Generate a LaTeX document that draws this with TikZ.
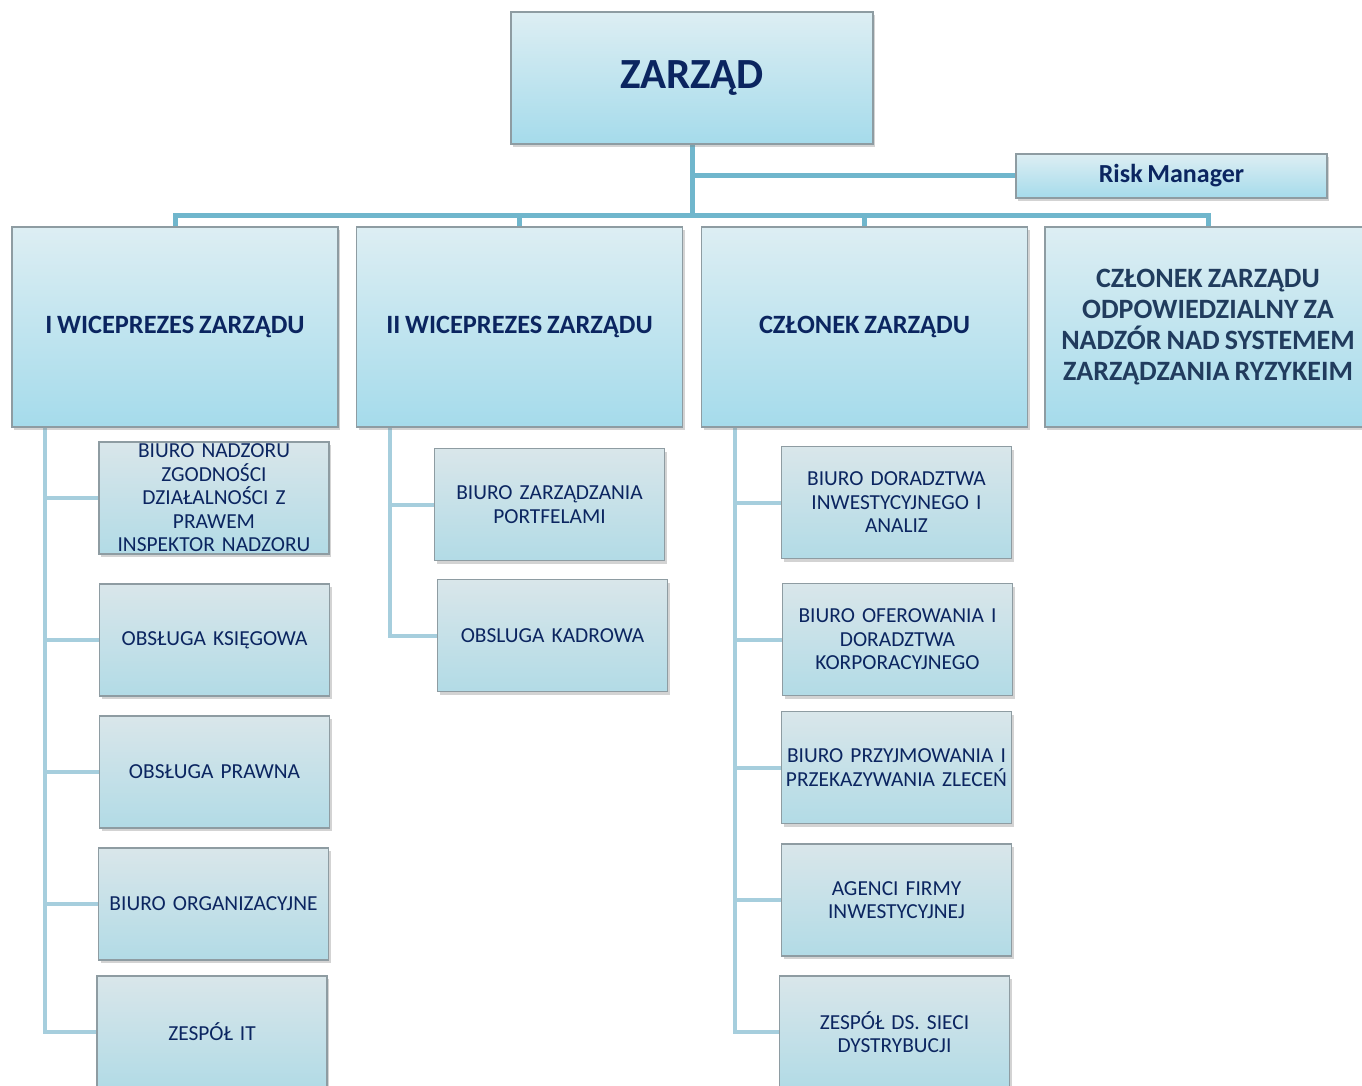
\documentclass[tikz,border=0pt]{standalone}
\usepackage{fontspec}
\setmainfont[WordSpace=0.8]{Carlito}
\usetikzlibrary{shadows,backgrounds}
\definecolor{navy}{HTML}{0B2560}
\definecolor{slate}{HTML}{213C5E}
\definecolor{boxline}{HTML}{8E9CA2}
\definecolor{topA}{HTML}{DDEEF3}
\definecolor{topB}{HTML}{A5DBEB}
\definecolor{subA}{HTML}{D9E6EA}
\definecolor{subB}{HTML}{B2DBE6}
\definecolor{linkA}{HTML}{70B6CC}
\definecolor{linkB}{HTML}{A6CEDD}
\begin{document}
\begin{tikzpicture}[x=0.5pt,y=-0.5pt,
  box/.style={draw=boxline,line width=0.6pt,inner sep=2pt,align=center,text=navy,
    drop shadow={shadow xshift=1.2pt,shadow yshift=-1.5pt,opacity=0.35}},
  topbox/.style={box,top color=topA,bottom color=topB,minimum width=163pt,minimum height=100pt,
    font=\fontsize{13.2}{15.5}\selectfont\bfseries},
  subbox/.style={box,top color=subA,bottom color=subB,minimum width=115pt,minimum height=56pt,
    text width=111pt,font=\fontsize{10.7}{11.75}\selectfont},
  trunk/.style={draw=linkA,line width=2.5pt},
  branch/.style={draw=linkB,line width=2pt}]
  \clip (0,0) rectangle (1362,1086);
  % board and its members
  \node[topbox,minimum width=181pt,minimum height=66pt,font=\fontsize{21.5}{24}\selectfont\bfseries] (zarzad) at (692,78) {ZARZĄD};
  \node[topbox,minimum width=155.5pt,minimum height=22pt,font=\fontsize{13}{14}\selectfont\bfseries] (risk) at (1171.5,176) {Risk Manager};
  \node[topbox] (w1) at (175,327) {I WICEPREZES ZARZĄDU};
  \node[topbox] (w2) at (519.5,327) {II WICEPREZES ZARZĄDU};
  \node[topbox] (w3) at (864.5,327) {CZŁONEK ZARZĄDU};
  \node[topbox,text=slate,font=\fontsize{14}{15.5}\selectfont\bfseries] (w4) at (1208,327) {CZŁONEK ZARZĄDU\\ODPOWIEDZIALNY ZA\\NADZÓR NAD SYSTEMEM\\ZARZĄDZANIA RYZYKEIM};
  % departments
  \node[subbox,inner ysep=0pt] (l1) at (214,498) {BIURO NADZORU\\ZGODNOŚCI\\DZIAŁALNOŚCI Z\\PRAWEM\\INSPEKTOR NADZORU};
  \node[subbox] (l2) at (214.5,640) {OBSŁUGA KSIĘGOWA};
  \node[subbox] (l3) at (214.5,772) {OBSŁUGA PRAWNA};
  \node[subbox] (l4) at (213.5,904) {BIURO ORGANIZACYJNE};
  \node[subbox] (l5) at (212,1032) {ZESPÓŁ IT};
  \node[subbox] (m1) at (549.5,504.5) {BIURO ZARZĄDZANIA\\PORTFELAMI};
  \node[subbox] (m2) at (552.5,635.5) {OBSLUGA KADROWA};
  \node[subbox] (r1) at (896.5,502.5) {BIURO DORADZTWA\\INWESTYCYJNEGO I\\ANALIZ};
  \node[subbox] (r2) at (897.5,639.5) {BIURO OFEROWANIA I\\DORADZTWA\\KORPORACYJNEGO};
  \node[subbox] (r3) at (896.5,767.5) {BIURO PRZYJMOWANIA I\\PRZEKAZYWANIA ZLECEŃ};
  \node[subbox] (r4) at (896.5,900) {AGENCI FIRMY\\INWESTYCYJNEJ};
  \node[subbox] (r5) at (894.5,1032) {ZESPÓŁ DS. SIECI\\DYSTRYBUCJI};
  \coordinate (hub) at (692,216);
  \coordinate (sp1) at (45,427);
  \coordinate (sp2) at (390,427);
  \coordinate (sp3) at (735,427);
  \begin{scope}[on background layer]
    \draw[trunk] (zarzad.south) -- (hub);
    \draw[trunk] (zarzad.south |- risk.west) -- (risk.west);
    \draw[trunk] (w1.north) -- (w1.north |- hub) -- (w4.north |- hub) -- (w4.north);
    \foreach \n in {w2,w3} \draw[trunk] (\n.north) -- (\n.north |- hub);
    \draw[branch] (sp1) |- (l5.west);
    \draw[branch] (sp2) |- (m2.west);
    \draw[branch] (sp3) |- (r5.west);
    \foreach \n in {l1,l2,l3,l4} \draw[branch] (sp1 |- \n.west) -- (\n.west);
    \draw[branch] (sp2 |- m1.west) -- (m1.west);
    \foreach \n in {r1,r2,r3,r4} \draw[branch] (sp3 |- \n.west) -- (\n.west);
  \end{scope}
\end{tikzpicture}
\end{document}
